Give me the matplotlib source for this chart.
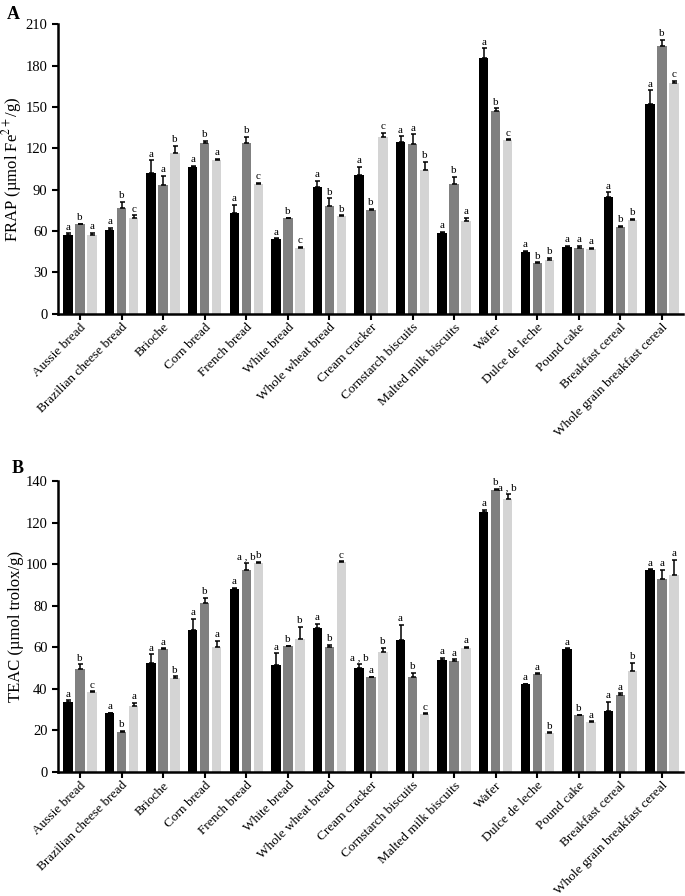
import numpy as np
import matplotlib
matplotlib.use("Agg")
from matplotlib import pyplot as plt

plt.rcParams['font.family'] = ['Liberation Serif', 'DejaVu Serif']
plt.rcParams['mathtext.fontset'] = 'stix'

categories = ["Aussie bread", "Brazilian cheese bread", "Brioche", "Corn bread", "French bread",
              "White bread", "Whole wheat bread", "Cream cracker", "Cornstarch biscuits",
              "Malted milk biscuits", "Wafer", "Dulce de leche", "Pound cake", "Breakfast cereal",
              "Whole grain breakfast cereal"]

# panel A - FRAP
frap_1 = [57.3, 60.5, 102.1, 106.5, 72.8, 54.4, 92.2, 100.4, 124.4, 58.8, 185.8, 45.0, 48.6, 84.9, 152.4]
frap_2 = [64.8, 76.7, 93.4, 123.6, 124.1, 69.4, 78.2, 75.5, 122.9, 93.9, 146.9, 36.5, 47.7, 62.7, 194.0]
frap_3 = [56.9, 69.4, 116.9, 111.5, 94.1, 47.9, 70.6, 128.5, 104.3, 67.3, 126.3, 38.7, 46.9, 68.2, 167.2]
frap_err_1 = [1.0, 1.7, 9.2, 0.7, 6.0, 0.3, 4.4, 6.3, 4.4, 0.5, 6.8, 0.7, 0.5, 3.1, 9.7]
frap_err_2 = [0.3, 4.4, 6.5, 2.0, 4.4, 0.3, 5.5, 0.5, 7.3, 5.3, 2.2, 0.7, 1.5, 1.0, 4.8]
frap_err_3 = [2.0, 2.0, 5.0, 1.0, 0.7, 0.5, 0.7, 2.9, 6.0, 2.4, 0.3, 1.7, 0.7, 0.5, 1.7]
frap_let_1 = ["a", "a", "a", "a", "a", "a", "a", "a", "a", "a", "a", "a", "a", "a", "a"]
frap_let_2 = ["b", "b", "a", "b", "b", "b", "b", "b", "a", "b", "b", "b", "a", "b", "b"]
frap_let_3 = ["a", "c", "b", "a", "c", "c", "b", "c", "b", "a", "c", "b", "a", "b", "c"]

# panel B - TEAC
teac_1 = [33.4, 28.1, 52.6, 68.2, 88.0, 51.4, 69.0, 50.1, 63.6, 53.8, 124.9, 42.2, 59.2, 29.1, 97.3]
teac_2 = [49.4, 19.1, 59.2, 81.2, 97.3, 60.4, 59.9, 45.4, 45.7, 53.3, 135.6, 47.2, 27.1, 36.8, 92.6]
teac_3 = [38.5, 31.8, 45.1, 59.9, 100.5, 63.9, 101.1, 57.9, 27.9, 59.5, 131.3, 18.6, 23.9, 48.3, 94.7]
teac_err_1 = [1.0, 0.3, 3.9, 5.3, 0.6, 5.6, 2.1, 1.8, 7.0, 1.1, 1.3, 0.2, 0.2, 4.7, 0.2]
teac_err_2 = [2.4, 0.5, 0.2, 2.4, 3.4, 0.2, 1.1, 0.2, 1.8, 0.8, 0.5, 0.2, 0.2, 1.0, 4.5]
teac_err_3 = [0.3, 1.3, 0.8, 3.2, 0.6, 5.9, 0.2, 1.8, 0.3, 0.5, 2.4, 0.3, 0.3, 4.2, 7.4]
teac_let_1 = ["a", "a", "a", "a", "a", "a", "a", "a , b", "a", "a", "a", "a", "a", "a", "a"]
teac_let_2 = ["b", "b", "a", "b", "a , b", "b", "b", "a", "b", "a", "b", "a", "b", "a", "a"]
teac_let_3 = ["c", "a", "b", "a", "b", "b", "c", "b", "c", "a", "a , b", "b", "a", "b", "a"]

colors = ["#000000", "#808080", "#d4d4d4"]


def draw_panel(ax, series, errs, letters, ymax, ystep, ylabel):
    x = np.arange(len(categories))
    pitch = 0.289
    width = 0.226
    for i in range(3):
        pos = x + (i - 1) * pitch
        ax.bar(pos, series[i], width, color=colors[i],
               yerr=[np.zeros(len(errs[i])), errs[i]],
               error_kw=dict(ecolor='black', elinewidth=1.1, capsize=1.8, capthick=1.1))
        for p, v, e, t in zip(pos, series[i], errs[i], letters[i]):
            ax.annotate(t, (p, v + e), xytext=(0, 1.2), textcoords='offset points',
                        ha='center', va='bottom', fontsize=8)
    ax.set_xlim(-0.53, 14.5)
    ax.set_ylim(0, ymax)
    ax.set_yticks(np.arange(0, ymax + 1, ystep))
    ax.set_xticks(x)
    ax.set_xticklabels(categories, rotation=45, ha='right', rotation_mode='anchor', fontsize=9.6)
    ax.set_ylabel(ylabel, fontsize=12, labelpad=1)
    ax.spines['top'].set_visible(False)
    ax.spines['right'].set_visible(False)
    ax.spines['left'].set_linewidth(1.8)
    ax.spines['bottom'].set_linewidth(1.8)
    ax.tick_params(direction='out', length=4, width=1.5, labelsize=10.5)
    ax.tick_params(axis='x', pad=1.5, labelsize=9.6)


fig = plt.figure(figsize=(6.85, 8.96), dpi=100)

ax1 = fig.add_axes([0.0847, 0.6499, 0.912, 0.323])
draw_panel(ax1, [frap_1, frap_2, frap_3], [frap_err_1, frap_err_2, frap_err_3],
           [frap_let_1, frap_let_2, frap_let_3], 210, 30, r"FRAP (µmol Fe$^{2+}$/g)")

ax2 = fig.add_axes([0.0847, 0.1387, 0.912, 0.3244])
draw_panel(ax2, [teac_1, teac_2, teac_3], [teac_err_1, teac_err_2, teac_err_3],
           [teac_let_1, teac_let_2, teac_let_3], 140, 20, "TEAC (µmol trolox/g)")

fig.text(0.010, 1 - 6 / 896, "A", fontsize=13, fontweight='bold', va='top')
fig.text(0.017, 1 - 460 / 896, "B", fontsize=13, fontweight='bold', va='top')

fig.savefig("out.png", dpi=100)
